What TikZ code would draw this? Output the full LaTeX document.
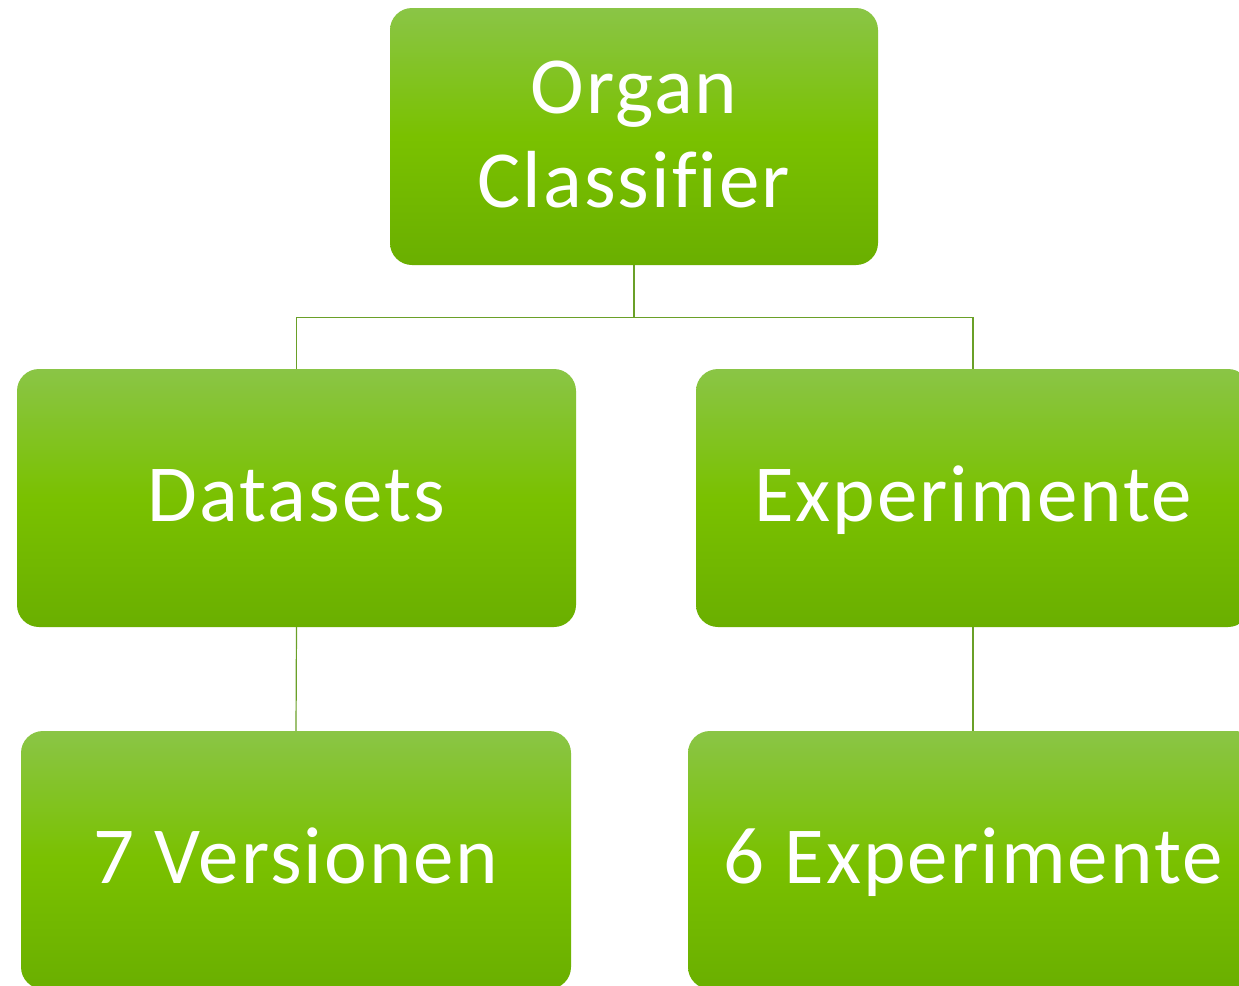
\documentclass[tikz,border=0pt]{standalone}
\usepackage{fontspec}
\setmainfont{Carlito}[Ligatures=NoCommon, LetterSpace=2.5]
\tikzset{
  gbox/.style={rectangle, rounded corners=22pt, inner sep=0pt, align=center,
    top color={rgb,255:red,138;green,197;blue,70},
    bottom color={rgb,255:red,106;green,175;blue,0},
    middle color={rgb,255:red,122;green,193;blue,0},
    text=white, font=\fontsize{81}{94}\selectfont,
    text height=53pt, text depth=6pt},
  link/.style={draw={rgb,255:red,106;green,160;blue,40}, line width=1.2pt}
}
\begin{document}
\begin{tikzpicture}[x=1pt,y=-1pt]
\useasboundingbox (0,0) rectangle (1239,985);
\clip (0,0) rectangle (1239,985);
\fill[white] (0,0) rectangle (1239,985);
\node[gbox, minimum width=488pt, minimum height=257pt, text height=147pt] (root) at (634,136.5) {Organ\\Classifier};
\node[gbox, minimum width=559pt, minimum height=258pt] (ds) at (296.5,498) {Datasets};
\node[gbox, minimum width=554pt, minimum height=258pt] (ex) at (973,498) {Experimente};
\node[gbox, minimum width=550pt, minimum height=258pt] (ver) at (296,860) {7 Versionen};
\node[gbox, minimum width=570pt, minimum height=258pt] (exn) at (973,860) {6 Experimente};
\draw[link] (root.south) -- ++(0,52) -| (ds.north);
\draw[link] (root.south) -- ++(0,52) -| (ex.north);
\draw[link] (ds.south) -- (ver.north);
\draw[link] (ex.south) -- (exn.north);
\end{tikzpicture}
\end{document}
